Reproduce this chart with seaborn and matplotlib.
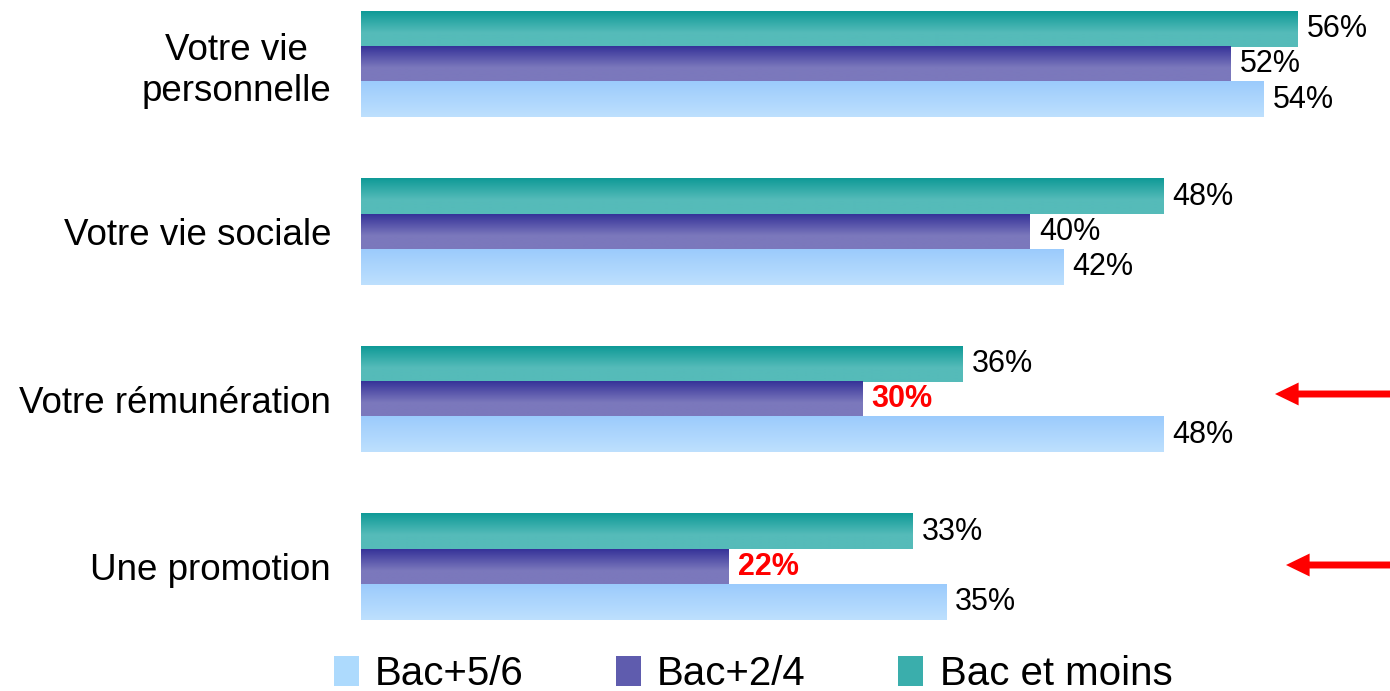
import numpy as np
import pandas as pd
import matplotlib
matplotlib.use("Agg")
import matplotlib.pyplot as plt
import seaborn as sns
from matplotlib.colors import to_rgb
from matplotlib.patches import Patch

# ---------------- data ----------------
categories = ["Votre vie\npersonnelle", "Votre vie sociale", "Votre rémunération", "Une promotion"]
series = ["Bac et moins", "Bac+2/4", "Bac+5/6"]
bac_et_moins = [56, 48, 36, 33]
bac_2_4 = [52, 40, 30, 22]
bac_5_6 = [54, 42, 48, 35]
highlighted = [("Votre rémunération", "Bac+2/4"), ("Une promotion", "Bac+2/4")]
legend_order = ["Bac+5/6", "Bac+2/4", "Bac et moins"]

values = {"Bac et moins": bac_et_moins, "Bac+2/4": bac_2_4, "Bac+5/6": bac_5_6}
rows = []
for s in series:
    for c, v in zip(categories, values[s]):
        rows.append({"category": c, "series": s, "value": v})
df = pd.DataFrame(rows)

# ---------------- style ----------------
sns.set_theme(style="white")
plt.rcParams["font.family"] = ["Liberation Sans", "DejaVu Sans"]
plt.rcParams["text.color"] = "black"

grad = {
    "Bac et moins": ("#0f9a97", "#55bbb9", 0.6),
    "Bac+2/4": ("#363399", "#7b78bc", 0.6),
    "Bac+5/6": ("#9bcbfc", "#bee0fe", 1.0),
}
palette = {"Bac et moins": "#3aaeac", "Bac+2/4": "#5f5cae", "Bac+5/6": "#addafd"}

W, H = 1390, 691
fig = plt.figure(figsize=(W / 100, H / 100), dpi=100)
ax = fig.add_axes([361 / W, 51 / H, 1029 / W, 640 / H])

sns.barplot(data=df, x="value", y="category", hue="series", order=categories,
            hue_order=series, palette=palette, width=0.63, orient="h",
            saturation=1, legend=False, ax=ax)

xlim = (0, 1029 / 16.72)
ylim = (3.436, -0.385)

# gradient fill on each bar
for s, cont in zip(series, ax.containers):
    top, bot, stop = grad[s]
    t = np.linspace(0, 1, 64)
    f = np.clip(t / stop, 0, 1)
    c0, c1 = np.array(to_rgb(top)), np.array(to_rgb(bot))
    img = (c0[None, :] * (1 - f[:, None]) + c1[None, :] * f[:, None])[:, None, :]
    for p in cont.patches:
        x0, y0, w, h = p.get_x(), p.get_y(), p.get_width(), p.get_height()
        ax.imshow(img, extent=(x0, x0 + w, y0 + h, y0), origin="upper",
                  aspect="auto", interpolation="bilinear", zorder=p.get_zorder() + 0.1)
        p.set_edgecolor("none")

# value labels
for s, cont in zip(series, ax.containers):
    texts = ax.bar_label(cont, labels=[f"{v}%" for v in values[s]], padding=6.5,
                         fontsize=22, color="black")
    for c, t in zip(categories, texts):
        t.set_zorder(5)
        if (c, s) in highlighted:
            t.set_color("#ff0000")
            t.set_fontweight("bold")

ax.set_xlim(*xlim)
ax.set_ylim(*ylim)
ax.set_xlabel("")
ax.set_ylabel("")
ax.set_xticks([])
for sp in ax.spines.values():
    sp.set_visible(False)
ax.tick_params(axis="y", length=0, pad=21.6, labelsize=26.5, labelcolor="black")
for t in ax.get_yticklabels():
    t.set_multialignment("center")
    t.set_linespacing(1.22)

# arrows
for tip_x, y in [(1275, 394), (1286, 565)]:
    ax.annotate("", xy=(tip_x, H - y), xycoords="figure pixels",
                xytext=(1392, H - y), textcoords="figure pixels",
                arrowprops=dict(arrowstyle="simple,head_length=17,head_width=16.5,tail_width=5",
                                mutation_scale=1, color="#ff0000", shrinkA=0, shrinkB=0,
                                lw=0))

# legend
handles = [Patch(facecolor=palette[s], edgecolor="none", label=s) for s in legend_order]
leg = fig.legend(handles=handles, loc="lower center", bbox_to_anchor=(753 / W, -0.026),
                 ncol=3, frameon=False, fontsize=29, handlelength=0.62, handleheight=0.75,
                 handletextpad=0.4, columnspacing=2.3, borderaxespad=0)
for t in leg.get_texts():
    t.set_color("black")

fig.savefig("out.png", dpi=100)
